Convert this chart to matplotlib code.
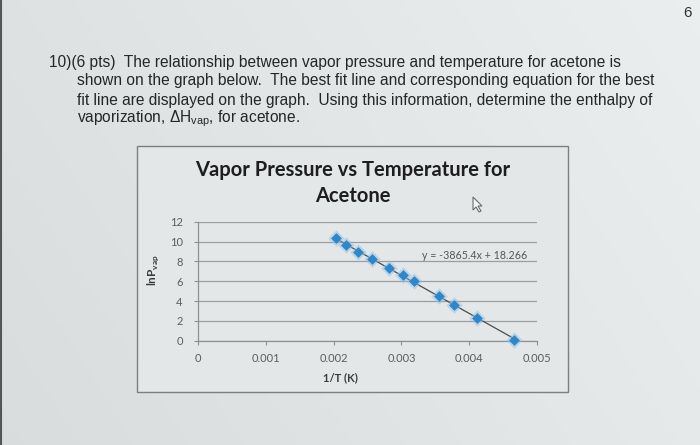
import numpy as np
import matplotlib.pyplot as plt
from matplotlib.patches import Rectangle, Polygon
from matplotlib.lines import Line2D

# data
inv_T = [0.002035, 0.002178, 0.002364, 0.002571, 0.002822, 0.003024,
         0.003186, 0.003555, 0.003776, 0.004119, 0.004661]
ln_P = [10.34, 9.61, 8.91, 8.22, 7.30, 6.63, 5.98, 4.55, 3.65, 2.24, 0.10]

x_ticks = [0, 0.001, 0.002, 0.003, 0.004, 0.005]
x_tick_labels = ['0', '0.001', '0.002', '0.003', '0.004', '0.005']
y_ticks = [0, 2, 4, 6, 8, 10, 12]
y_tick_labels = ['0', '2', '4', '6', '8', '10', '12']

fit_label = 'y = -3865.4x + 18.266'
chart_title = 'Vapor Pressure vs Temperature for\nAcetone'
question_first = '10)(6 pts)  The relationship between vapor pressure and temperature for acetone is'
question_rest = ['shown on the graph below.  The best fit line and corresponding equation for the best',
                 'fit line are displayed on the graph.  Using this information, determine the enthalpy of',
                 r'vaporization, $\Delta$H$_{\mathrm{vap}}$, for acetone.']
page_number = '6'

plt.rcParams['mathtext.fontset'] = 'custom'
plt.rcParams['mathtext.rm'] = 'Liberation Sans'
plt.rcParams['mathtext.bf'] = 'Lato:bold'

W, H = 700, 445


# pixel position (from top-left) -> figure fraction
def px(x, y):
    return x / W, 1 - y / H


fig = plt.figure(figsize=(7, 4.45), dpi=100)

# photographed paper background
bg = fig.add_axes([0, 0, 1, 1])
bg.set_zorder(-1)
gx = np.linspace(0, 1, 200)
gy = np.linspace(0, 1, 120)
shade = 0.855 + 0.05 * gx[None, :] + 0.02 * gy[:, None]
rgb = np.dstack([shade - 0.005, shade + 0.01, shade + 0.012]).clip(0, 1)
bg.imshow(rgb, extent=[0, 1, 0, 1], aspect='auto', origin='lower')
bg.set_xlim(0, 1)
bg.set_ylim(0, 1)
bg.axis('off')
bg.add_line(Line2D([0.0015, 0.0015], [0, 1], color='#555555', lw=1.5))

# question text
txt = dict(family='Liberation Sans', fontsize=11.2, color='#262626', va='center')
fig.text(*px(49, 62), question_first, **txt)
for i, line in enumerate(question_rest):
    fig.text(*px(77, 81 + 19 * i), line, **txt)
fig.text(*px(687, 13), page_number, family='Liberation Sans', fontsize=11,
         color='#333333', ha='center', va='center')

# chart border
x0, y0 = px(137, 392)
x1, y1 = px(568, 146)
fig.patches.append(Rectangle((x0, y0), x1 - x0, y1 - y0, transform=fig.transFigure,
                             facecolor='#e4e7e8', edgecolor='#7d8083', lw=1.0, zorder=-0.5))

fig.text(*px(353, 183), chart_title, family='Lato', fontweight='bold', fontsize=14.5,
         color='#1e1e1e', ha='center', va='center', linespacing=1.35)

# plot area
l, b = px(198, 340.7)
r, t = px(537, 221.7)
ax = fig.add_axes([l, b, r - l, t - b])
ax.set_zorder(1)
ax.patch.set_alpha(0)
ax.set_xlim(0, 0.005)
ax.set_ylim(0, 12)
ax.set_xticks(x_ticks)
ax.set_xticklabels(x_tick_labels)
ax.set_yticks(y_ticks)
ax.set_yticklabels(y_tick_labels)
for s in ['top', 'right']:
    ax.spines[s].set_visible(False)
for s in ['left', 'bottom']:
    ax.spines[s].set_color('#8e9194')
    ax.spines[s].set_linewidth(0.9)
ax.grid(axis='y', color='#9c9fa2', lw=0.9)
ax.set_axisbelow(True)
ax.tick_params(axis='both', direction='out', length=3, color='#8e9194',
               labelsize=8, labelcolor='#5a5c5e', pad=6)
ax.tick_params(axis='y', pad=8)
for lab in ax.get_xticklabels() + ax.get_yticklabels():
    lab.set_family('Lato')

# trendline
slope, icpt = np.polyfit(inv_T, ln_P, 1)
xs = np.array([min(inv_T), max(inv_T)])
ax.plot(xs, slope * xs + icpt, color='#4a4c4e', lw=0.9, zorder=2)

# data markers with a faint glow like in the photo
ax.scatter(inv_T, ln_P, marker='D', s=70, color='#8fc0e6', alpha=0.5,
           linewidths=0, zorder=3, clip_on=False)
ax.scatter(inv_T, ln_P, marker='D', s=30, color='#2f86c9',
           linewidths=0, zorder=4, clip_on=False)

ax.text(0.004086, 8.57, fit_label, family='Lato', fontsize=7.7, color='#555759',
        ha='center', va='center')

ax.set_xlabel('1/T (K)', family='Lato', fontweight='bold', fontsize=8, color='#3a3c3e')
ax.xaxis.set_label_coords(0.419, -0.263)
ax.set_ylabel(r'lnP$_{\mathbf{vap}}$', family='Lato', fontweight='bold', fontsize=8.5,
              color='#3a3c3e')
ax.yaxis.set_label_coords(-0.11, 0.594)

# mouse pointer visible in the photo
tip = np.array([473, 197])
shape = np.array([[0, 0], [0, 13], [3, 10], [6, 15], [8, 14], [5, 9], [9, 9]])
pts = [px(*p) for p in tip + shape]
fig.patches.append(Polygon(pts, closed=True, transform=fig.transFigure,
                           facecolor='#f4f6f6', edgecolor='#6a6d70', lw=0.8, zorder=5))

fig.savefig('out.png', dpi=100)
